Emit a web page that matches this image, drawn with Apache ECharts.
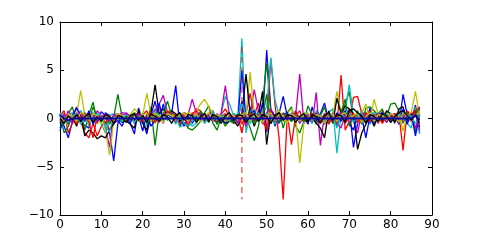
<!DOCTYPE html>
<html><head><meta charset="utf-8">
<script src="https://cdn.jsdelivr.net/npm/echarts@6/dist/echarts.min.js"></script>
<style>html,body{margin:0;padding:0;background:#fff}#c{width:480px;height:240px}</style>
</head><body><div id="c"></div>
<script>
const xTicks = [0,10,20,30,40,50,60,70,80,90];
const yTicks = [-10,-5,0,5,10];
const markerX = 44, markerTop = 7.4, markerBottom = -8.4;

const b1 = [0.5,-0.8,-2.0,-0.3,0.6,-0.5,-0.7,-1.0,0.6,-0.3, 0.7,0.3,-1.5,-4.4,-0.5,0.2,-0.3,-0.5,-1.6,1.1, -0.2,-1.6,0.3,1.8,-0.2,1.5,-0.2,0.5,3.4,-0.8, 0.4,-0.3,0.6,-0.4,0.2,0.5,-0.2,0.3,-0.5,0.2, 0.1,-0.3,0.5,-0.2,1.8,-0.5,1.2,-0.3,0.8,-0.4, 7.1,1.0,-0.8,0.5,2.3,0.2,-0.3,0.8,-0.5,0.3, -0.6,1.2,-0.3,0.5,1.6,-0.2,0.6,-0.8,0.5,-0.3, 1.0,-3.0,-0.5,0.8,-0.4,1.1,-0.5,0.3,-0.2,0.6, -0.4,0.3,-0.6,2.5,0.4,-0.3,1.4,-1.5];
const g1 = [-1.0,-0.3,0.5,1.2,-0.5,0.8,-1.2,0.4,1.7,-0.5, 0.3,-0.6,-0.2,0.1,2.5,0.2,-0.3,0.4,-0.2,0.5, 0.3,-0.4,1.2,-2.8,0.6,-0.3,0.5,0.8,0.2,-0.6, -0.4,-1.0,-1.2,-0.8,-0.3,0.6,1.3,-0.5,-1.2,0.1, -0.8,-0.2,-0.5,-0.3,0.4,0.3,-1.0,-2.3,-0.8,1.5, 5.8,0.6,-0.5,0.8,-1.0,0.6,1.2,-0.8,-1.5,-0.3, 1.3,0.4,-0.6,0.3,1.2,-0.5,0.2,-0.4,0.8,1.5, 2.8,-0.3,0.8,-0.6,1.1,1.2,0.8,0.3,-0.4,0.2, 1.5,1.6,0.8,-0.5,0.6,0.2,-1.4,1.2];
const r1 = [0.3,0.8,-1.5,-0.5,0.5,-0.3,-1.5,-2.0,-0.5,-1.8, -0.8,-0.3,-1.2,-0.6,0.2,-0.4,0.3,-0.2,0.5,-0.3, 0.4,0.8,-0.3,0.5,1.2,0.3,0.8,0.6,0.3,-0.6, 0.2,-0.8,0.3,1.0,0.8,-0.5,0.5,0.8,-0.3,0.4, 1.0,0.2,-0.4,0.3,-1.5,0.5,2.6,0.3,1.6,-0.5, -0.8,6.2,1.5,-2.0,-8.4,0.5,-2.7,0.3,0.8,-0.5, 0.3,-0.4,0.6,-0.3,0.5,-0.6,0.2,-0.8,4.5,-1.2, -0.3,2.2,2.3,0.5,-0.4,0.8,0.3,-0.5,0.8,0.2, 0.4,-0.3,0.5,-3.3,0.8,0.3,1.0,0.5];
const c1 = [0.2,-0.5,0.4,0.6,-0.3,0.8,0.2,-0.8,0.5,0.3, -0.6,-1.5,0.3,0.5,0.2,-0.2,0.4,0.3,-0.5,0.2, -0.5,-0.8,0.4,1.0,0.3,0.5,-0.2,0.4,0.2,-0.9, -0.6,-0.3,-0.8,-0.5,0.4,0.2,-0.4,0.8,-0.6,0.5, 2.3,1.5,0.3,-0.2,8.3,-1.5,0.6,1.0,-0.3,0.5, 1.2,6.3,2.0,0.3,0.5,-0.3,0.6,0.4,-0.3,0.2, 0.5,-0.2,0.8,0.4,-0.5,0.6,1.0,-3.6,0.5,0.8, 3.5,0.2,-0.5,0.8,0.3,-0.6,0.5,0.2,-0.3,0.6, 0.2,-0.4,0.8,0.3,-0.5,-1.0,1.2,-1.6];
const m1 = [0.5,-0.3,0.8,-0.2,1.2,-0.5,0.3,0.6,-0.4,0.8, 0.3,-1.0,-3.0,0.4,0.5,0.3,0.6,0.2,-0.2,0.5, 0.3,-0.2,0.5,0.8,1.5,2.4,0.6,0.8,-0.3,0.2, 0.6,0.4,2.0,0.5,0.3,-0.2,0.5,0.3,-0.4,0.6, 3.4,0.3,-0.5,0.2,0.5,-0.8,0.4,3.0,0.8,-0.5, 0.6,1.0,0.2,-0.4,0.5,-0.2,0.4,0.3,4.6,-0.5, 0.3,-0.5,2.7,-2.8,0.5,-0.3,0.6,-0.5,-1.0,0.4, 0.5,-0.3,-1.5,0.6,0.3,-0.4,0.5,0.2,-0.3,0.4, 0.3,-0.5,0.4,0.2,-0.4,0.6,-1.0,0.3];
const y1 = [-0.3,0.2,-0.8,0.5,0.3,2.9,0.4,-0.5,0.3,-0.6, 0.2,-1.2,-3.8,-0.3,0.5,0.3,-0.2,0.4,1.0,0.6, 0.3,2.6,0.5,-0.5,0.3,0.6,0.8,0.4,0.2,0.5, 0.3,0.6,0.5,0.8,1.5,2.0,1.2,0.5,0.3,-0.2, 0.2,-0.3,0.5,-0.2,0.6,0.3,4.8,0.5,-0.3,0.6, 0.2,-0.5,0.3,0.8,-0.3,0.5,1.0,0.3,-4.6,-0.5, 0.4,-0.3,0.5,0.2,-0.5,0.6,0.3,2.8,0.6,-0.5, 0.3,0.5,-0.2,0.6,1.5,-0.3,2.0,0.4,-0.3,0.5, 0.3,-0.4,0.5,-1.3,0.3,0.6,2.8,0.2];
const k1 = [-0.5,0.3,-0.3,0.2,-0.8,0.4,-1.8,-1.2,-1.5,-2.1, -1.8,-2.0,-1.2,-0.5,0.3,-0.4,-0.2,-0.6,-1.0,0.8, -0.5,-1.2,0.6,3.5,0.5,1.0,0.3,0.8,0.5,-0.3, 0.2,0.1,0.0,0.1,0.0,0.1,0.0,-0.2,-0.3,0.0, -0.5,-0.3,-0.2,-0.8,0.3,4.6,0.5,-0.8,0.3,2.8, -2.7,0.6,0.3,0.6,0.0,0.3,0.2,0.1,0.0,-0.2, -0.3,0.2,-0.5,-1.0,-2.0,0.8,-0.5,2.1,0.5,1.3, 1.0,0.5,-3.2,-1.5,-0.6,0.2,-0.8,0.3,-0.3,0.8, 0.5,-0.4,1.0,1.2,-0.2,0.3,0.8,-0.9];
const b2 = [-1.3,0.2,-0.5,0.3,1.1,0.4,-0.3,0.8,-0.6,0.2, -0.3,0.6,0.3,-0.5,-0.2,-0.8,0.2,-0.5,0.6,0.3, -1.3,0.5,-0.8,-0.2,1.6,-0.3,0.4,0.2,-0.2,0.6, -0.8,0.3,-0.5,0.2,0.5,-0.3,0.2,-0.1,0.3,-0.2, -0.4,0.5,0.2,-0.3,5.0,-0.2,0.5,0.8,-0.2,1.6, -1.4,0.8,0.3,-0.5,0.4,0.6,-0.2,0.3,-0.4,0.5, 0.2,-0.4,0.5,0.3,-0.6,0.4,-0.2,0.6,-0.3,0.8, -0.5,-1.2,0.4,0.2,-2.0,0.3,-0.5,0.4,0.6,-0.3, 0.5,0.2,-0.4,1.0,-0.6,0.5,-1.8,0.4];
const g2 = [0.4,-1.5,-0.8,0.3,-0.4,0.2,0.6,-0.3,1.2,0.2, -0.3,0.4,-0.6,0.3,0.2,-0.4,0.3,-0.2,0.4,-0.3, 0.5,-0.6,0.3,0.6,-0.2,0.4,1.8,0.3,-0.4,0.2, 0.3,-0.2,0.4,-0.3,0.8,0.2,-0.4,0.5,-0.6,0.3, -0.3,0.2,-0.5,0.4,0.3,-0.4,0.8,-0.6,0.3,0.2, 2.5,-0.5,0.3,-0.4,0.6,0.2,-0.3,0.5,0.2,-0.3, 0.4,-0.2,0.6,-0.4,0.3,0.5,-0.5,0.3,0.6,2.0, -0.8,0.4,0.3,-0.5,0.6,0.2,-0.3,0.5,1.0,-0.4, 0.3,0.5,-0.2,0.4,0.6,-0.3,0.5,1.0];
const r2 = [-0.2,0.5,-0.3,0.4,-0.6,0.2,0.5,-0.4,-2.0,0.3, 0.2,-0.5,0.3,-0.3,0.4,0.2,-0.2,0.3,-0.4,0.5, -0.3,0.2,0.6,-0.4,0.3,-0.5,0.8,0.2,-0.3,0.4, 0.3,-0.9,0.5,0.8,0.3,-0.4,0.2,0.6,-0.3,0.2, 0.5,-0.3,0.2,0.4,-0.6,0.3,0.5,-0.2,0.6,0.3, -1.2,0.8,-0.3,0.2,0.5,-0.4,0.3,0.6,-0.3,0.4, -0.2,0.5,0.3,-0.4,0.2,0.6,-0.3,0.4,0.2,-0.5, 0.3,0.5,-0.4,0.2,0.6,-0.3,0.4,0.2,-0.5,0.3, -0.2,0.4,0.6,-0.3,0.5,0.2,0.8,1.2];
const c2 = [0.6,0.2,-0.4,0.3,0.5,-0.6,0.2,0.4,-0.2,0.5, 0.3,-0.8,-1.4,0.4,0.2,-0.3,0.5,0.2,-0.4,0.3, 0.2,-0.5,0.4,0.6,0.3,-0.4,0.5,0.2,-0.6,0.3, -0.5,-0.8,-0.3,0.4,0.2,-0.5,0.3,0.6,-0.2,0.4, 0.2,-0.3,0.5,0.3,1.5,0.4,-0.5,0.3,0.6,-0.4, 0.5,0.3,-0.6,0.4,0.2,-0.3,0.5,0.3,-0.4,0.6, 0.3,-0.5,0.4,0.2,-0.3,0.5,0.3,-1.0,0.4,0.2, 0.6,-0.4,0.3,0.5,-0.2,0.4,0.6,-0.3,0.2,0.5, -0.4,0.3,0.5,-0.2,0.4,0.2,-0.5,0.3];
const m2 = [-0.3,0.4,0.2,-0.5,0.3,0.6,-0.2,0.4,0.3,-0.4, 0.2,0.5,-0.3,0.4,0.2,0.6,0.5,0.3,-0.2,0.4, 0.3,-0.3,0.5,0.2,-0.4,0.3,0.6,0.2,-0.3,0.5, 0.2,-0.4,0.3,0.5,-0.2,0.4,0.3,-0.3,0.5,0.2, -0.3,0.4,0.2,-0.5,0.3,0.6,-0.2,0.4,0.3,-0.4, 0.3,0.5,-0.3,0.2,0.4,-0.2,0.5,0.3,-0.4,0.2, 0.4,-0.3,0.5,0.2,-0.5,0.3,0.4,-0.2,0.6,0.3, -0.4,0.2,0.5,-0.3,0.4,0.3,-0.2,0.5,0.2,-0.4, 0.3,0.5,-0.2,0.4,0.2,-0.3,0.5,-1.2];
const y2 = [0.3,-0.4,0.5,0.2,-0.3,0.6,0.4,-0.2,0.5,0.3, -0.5,0.3,0.2,-0.4,0.5,0.3,-0.2,0.4,0.6,-0.3, 0.4,0.5,-0.3,0.6,0.2,-0.4,0.5,0.3,-0.2,0.4, 0.6,-0.3,0.2,0.5,-0.4,0.3,0.6,-0.2,0.4,0.2, -0.3,0.5,0.3,-0.2,0.4,0.6,-0.3,0.5,0.2,-0.4, 0.3,0.6,-0.2,0.4,0.3,-0.5,0.5,0.2,-0.3,0.4, 0.6,-0.2,0.4,0.3,-0.5,0.2,0.5,-0.3,0.4,0.6, -0.2,0.3,0.5,-0.4,0.2,0.6,-0.3,0.4,0.3,-0.2, 0.5,0.3,-0.4,0.6,0.2,-0.3,0.4,0.5];
const k2 = [0.0,-0.5,0.3,-0.2,0.4,-0.3,0.2,0.5,-0.4,0.2, -0.3,0.4,0.2,-0.5,0.3,0.2,-0.4,0.3,0.5,-0.2, 0.3,-0.4,0.5,0.2,-0.3,0.4,0.2,-0.5,0.3,0.6, -0.2,0.4,0.3,-0.4,0.2,0.5,-0.3,0.4,0.2,-0.5, 0.3,0.6,-0.2,0.4,0.3,-0.4,0.2,0.5,-0.3,0.4, 0.2,-0.5,0.3,0.6,-0.2,0.4,0.3,-0.4,0.2,0.5, -0.3,0.4,0.2,-0.5,0.3,0.6,-0.2,0.4,0.3,-0.4, 0.8,1.0,0.6,0.3,-0.5,0.4,0.2,-0.3,0.5,0.3, -0.4,0.2,0.6,0.8,0.3,-0.2,0.4,-0.5];
const b3 = [0.3,0.0,-0.2,0.0,0.0,0.0,0.0,0.0,0.0,0.0, 0.0,0.0,0.0,0.0,0.0,0.0,0.0,0.0,0.0,0.0, 0.0,0.0,0.0,0.0,0.0,0.0,0.0,0.0,0.0,0.0, 0.0,0.0,0.0,0.0,0.0,0.0,0.0,0.0,0.0,0.0, 0.0,0.0,0.0,0.0,0.0,0.0,0.0,0.0,0.0,0.0, 0.0,0.0,0.0,0.0,0.0,0.0,0.0,0.0,0.0,0.0, 0.0,0.0,0.0,0.0,0.0,0.0,0.0,0.0,0.0,0.0, 0.0,0.0,0.0,0.0,0.0,0.0,0.0,0.0,0.0,0.0, 0.0,0.0,0.0,0.0,0.0,0.0,0.3,-0.2];

const seriesData = [b1,g1,r1,c1,m1,y1,k1,b2,g2,r2,c2,m2,y2,k2,b3];
const seriesColors = ['#0000ff','#008000','#ff0000','#00bfbf','#bf00bf','#bfbf00','#000000',
                      '#0000ff','#008000','#ff0000','#00bfbf','#bf00bf','#bfbf00','#000000','#0a0a9a'];

const fmt = v => String(v).replace('-', '\u2212');
const font = 'DejaVu Sans';

const series = seriesData.map((arr, i) => ({
  type: 'line', xAxisIndex: 0, yAxisIndex: 0,
  data: arr.map((v, x) => [x, v]),
  showSymbol: false, symbol: 'none', silent: true,
  lineStyle: { color: seriesColors[i], width: i === 14 ? 1.8 : 1.3 },
  z: 2
}));
series.push({
  type: 'line', xAxisIndex: 0, yAxisIndex: 0,
  data: [[markerX, markerTop], [markerX, markerBottom]],
  symbol: 'none', silent: true,
  lineStyle: { color: '#ff0000', width: 1.5, type: [6, 4], opacity: 0.6 },
  z: 3
});

const chart = echarts.init(document.getElementById('c'), null, { renderer: 'canvas' });
chart.setOption({
  animation: false,
  backgroundColor: '#ffffff',
  grid: { left: 60, right: 48, top: 22, bottom: 25, containLabel: false },
  xAxis: [
    { type: 'value', min: 0, max: 90, interval: 10, position: 'bottom',
      axisLine: { show: true, onZero: false, lineStyle: { color: '#000', width: 1 } },
      axisTick: { show: true, inside: true, length: 4, lineStyle: { color: '#000' } },
      axisLabel: { color: '#000', fontFamily: font, fontSize: 12, margin: 4, formatter: fmt },
      splitLine: { show: false } },
    { type: 'value', min: 0, max: 90, interval: 10, position: 'top',
      axisLine: { show: true, onZero: false, lineStyle: { color: '#000', width: 1 } },
      axisTick: { show: true, inside: true, length: 4, lineStyle: { color: '#000' } },
      axisLabel: { show: false }, splitLine: { show: false } }
  ],
  yAxis: [
    { type: 'value', min: -10, max: 10, interval: 5, position: 'left',
      axisLine: { show: true, onZero: false, lineStyle: { color: '#000', width: 1 } },
      axisTick: { show: true, inside: true, length: 4, lineStyle: { color: '#000' } },
      axisLabel: { color: '#000', fontFamily: font, fontSize: 12, margin: 6, formatter: fmt },
      splitLine: { show: false } },
    { type: 'value', min: -10, max: 10, interval: 5, position: 'right',
      axisLine: { show: true, onZero: false, lineStyle: { color: '#000', width: 1 } },
      axisTick: { show: true, inside: true, length: 4, lineStyle: { color: '#000' } },
      axisLabel: { show: false }, splitLine: { show: false } }
  ],
  series: series
});
</script></body></html>
